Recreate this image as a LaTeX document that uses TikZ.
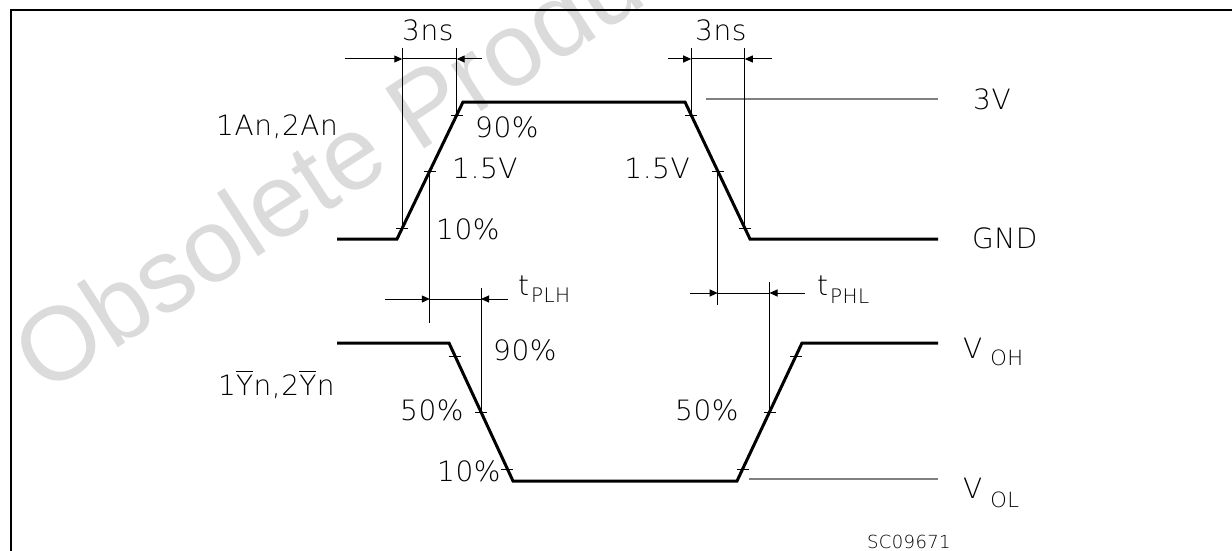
\documentclass[tikz,border=0pt]{standalone}
\usepackage{fontspec}
\IfFontExistsTF{DejaVu Sans ExtraLight}
  {\setmainfont{DejaVu Sans ExtraLight}[LetterSpace=2]}
  {\setmainfont{DejaVu Sans}}
\newfontfamily\wmfont{Liberation Sans}
\usetikzlibrary{arrows.meta}
\newcommand{\ovY}{\leavevmode\rlap{\raisebox{23pt}{\rule{\widthof{Y}}{1pt}}}Y}
\usepackage{calc}
\begin{document}
\begin{tikzpicture}[x=1pt,y=-1pt,
  lbl/.style={font=\fontsize{28}{32}\selectfont, inner sep=0pt, anchor=base west},
  wave/.style={line width=3pt, line join=miter},
  thinl/.style={line width=1pt},
  refl/.style={line width=1.2pt, draw=black!50},
  dim/.style={line width=1pt, -{Triangle[length=8pt,width=7pt]}},
  frame/.style={line width=2.5pt}]
\useasboundingbox (0,0) rectangle (1232,551);
% watermark
\begin{scope}
\clip (0,0) rectangle (1232,551);
\node[font=\wmfont\fontsize{104}{104}\selectfont, text=black!14, inner sep=0pt, anchor=base west, rotate=33] (wm) at (44,396) {Obsolete Product(s)};
\end{scope}
% frame
\draw[frame] (10,10) -- (1232,10);
\draw[frame] (11,9) -- (11,551);
% upper waveform
\coordinate (a0) at (337,239); \coordinate (a1) at (397,239); \coordinate (a2) at (463,102);
\coordinate (a3) at (685,102); \coordinate (a4) at (750,239); \coordinate (a5) at (938,239);
\draw[wave] (a0) -- (a1) -- (a2) -- (a3) -- (a4) -- (a5);
\coordinate (tA10) at (402.3,228); \coordinate (tA15) at (429.8,171); \coordinate (tA90) at (456.7,115);
\coordinate (tB90) at (691.2,115); \coordinate (tB15) at (717.7,171); \coordinate (tB10) at (744.8,228);
% lower waveform
\coordinate (b0) at (337,343); \coordinate (b1) at (449,343); \coordinate (b2) at (513,481);
\coordinate (b3) at (737,481); \coordinate (b4) at (802,343); \coordinate (b5) at (938,343);
\draw[wave] (b0) -- (b1) -- (b2) -- (b3) -- (b4) -- (b5);
\coordinate (tC90) at (455,356); \coordinate (tC50) at (481,412); \coordinate (tC10) at (507.4,469);
\coordinate (tD10) at (742.7,469); \coordinate (tD50) at (769.5,412); \coordinate (tD90) at (795.9,356);
% ticks
\foreach \p in {tA10,tA15,tA90,tB90,tB15,tB10,tC90,tC50,tC10,tD10,tD50,tD90}
  \draw[thinl] ([xshift=-6pt]\p) -- ([xshift=6pt]\p);
% reference lines
\coordinate (r3a) at (706,99); \coordinate (r3b) at (938,99);
\draw[refl] (r3a) -- (r3b);
\coordinate (rLa) at (749,479); \coordinate (rLb) at (938,479);
\draw[refl] (rLa) -- (rLb);
% verticals
\coordinate (top) at (0,48);
\draw[thinl] (tA10) -- (tA10 |- top);
\draw[thinl] (tA90) -- (tA90 |- top);
\draw[thinl] (tB90) -- (tB90 |- top);
\draw[thinl] (tB10) -- (tB10 |- top);
\coordinate (e3) at (0,323); \draw[thinl] (tA15) -- (tA15 |- e3);
\coordinate (e6) at (0,305); \draw[thinl] (tB15) -- (tB15 |- e6);
\coordinate (s7) at (0,288); \draw[thinl] (tC50) -- (tC50 |- s7);
\coordinate (s8) at (0,282); \draw[thinl] (tD50) -- (tD50 |- s8);
% dimension lines
\coordinate (d1s) at (345,59); \coordinate (d1e) at (482,59);
\draw[dim] (d1s) -- (tA10 |- d1s);
\draw[thinl] (tA10 |- d1s) -- (tA90 |- d1s);
\draw[dim] (d1e) -- (tA90 |- d1s);
\coordinate (d2s) at (668,59); \coordinate (d2e) at (772,59);
\draw[dim] (d2s) -- (tB90 |- d2s);
\draw[thinl] (tB90 |- d2s) -- (tB10 |- d2s);
\draw[dim] (d2e) -- (tB10 |- d2s);
\coordinate (d3s) at (385,299); \coordinate (d3e) at (508,299);
\draw[dim] (d3s) -- (tA15 |- d3s);
\draw[thinl] (tA15 |- d3s) -- (tC50 |- d3s);
\draw[dim] (d3e) -- (tC50 |- d3s);
\coordinate (d4s) at (690,293); \coordinate (d4e) at (805,293);
\draw[dim] (d4s) -- (tB15 |- d4s);
\draw[thinl] (tB15 |- d4s) -- (tD50 |- d4s);
\draw[dim] (d4e) -- (tD50 |- d4s);
% labels
\node[lbl] (l3nsL) at (402,41) {3ns};
\node[lbl] (l3nsR) at (695,41) {3ns};
\node[lbl] (l90A) at (475,137) {90\%};
\node[lbl] (l15A) at (452,178) {1.5V};
\node[lbl] (l10A) at (436,239) {10\%};
\node[lbl, anchor=base east] (l15B) at (690,178) {1.5V};
\node[lbl] (lin) at (216,135) {1An,2An};
\node[lbl] (l3V) at (973,110) {3V};
\node[lbl] (lGND) at (972,248) {GND};
\node[lbl] (l90C) at (493,360) {90\%};
\node[lbl] (lout) at (218,395) {1\ovY n,2\ovY n};
\node[lbl] (l50C) at (400,420) {50\%};
\node[lbl] (l10C) at (437,481) {10\%};
\node[lbl] (l50D) at (675,420) {50\%};
\node[lbl] (lVOH) at (963,358) {V\hspace{8pt}\raisebox{-7pt}{\fontsize{21}{24}\selectfont OH}};
\node[lbl] (lVOL) at (963,498) {V\hspace{8pt}\raisebox{-9pt}{\fontsize{21}{24}\selectfont OL}};
\node[lbl] (ltPLH) at (518,295) {t\hspace{2pt}\raisebox{-7pt}{\fontsize{20}{22}\selectfont PLH}};
\node[lbl] (ltPHL) at (817,295) {t\hspace{2pt}\raisebox{-8pt}{\fontsize{20}{22}\selectfont PHL}};
\node[lbl, font=\fontsize{18}{20}\selectfont] (lsc) at (867,548) {SC09671};
\end{tikzpicture}
\end{document}
